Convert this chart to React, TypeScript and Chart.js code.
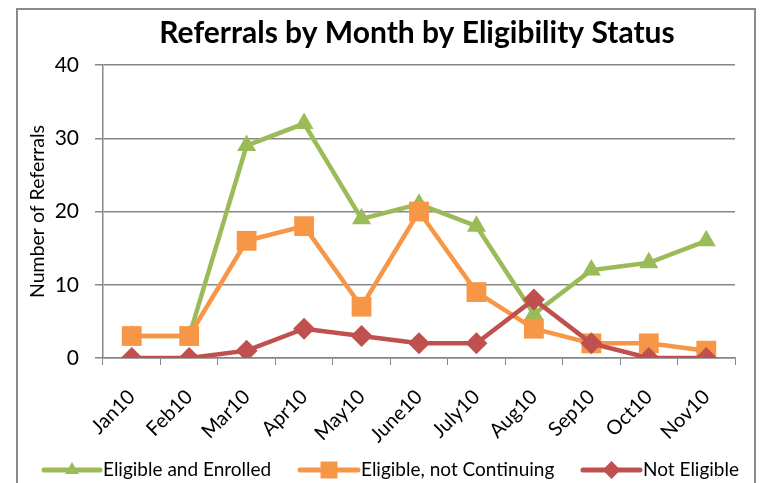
import React, { useEffect, useRef } from "react";
import { Chart, registerables } from "chart.js";

Chart.register(...registerables);

const categories = ["Jan10", "Feb10", "Mar10", "Apr10", "May10", "June10", "July10", "Aug10", "Sep10", "Oct10", "Nov10"];
const eligibleEnrolled = [3, 3, 29, 32, 19, 21, 18, 6, 12, 13, 16];
const eligibleNotContinuing = [3, 3, 16, 18, 7, 20, 9, 4, 2, 2, 1];
const notEligible = [0, 0, 1, 4, 3, 2, 2, 8, 2, 0, 0];
const yTicks = [0, 10, 20, 30, 40];

const titleText = "Referrals by Month by Eligibility Status";
const yTitle = "Number of Referrals";
const seriesNames = ["Eligible and Enrolled", "Eligible, not Continuing", "Not Eligible"];

const GREEN = "#9BBB59";
const ORANGE = "#F79646";
const RED = "#C0504D";
const GRID = "#868686";
const FONT = "Lato, 'Open Sans', sans-serif";

const customPlugin = {
  id: "customDecor",
  afterDraw(chart: any) {
    const ctx = chart.ctx;
    ctx.save();
    // title
    ctx.fillStyle = "#000";
    ctx.font = `bold 30px ${FONT}`;
    ctx.textAlign = "center";
    ctx.textBaseline = "middle";
    ctx.fillText(titleText, 417, 33);
    // legend
    const items = [
      { x0: 44, x1: 100, tx: 103, color: GREEN, style: "triangle", r: 8 },
      { x0: 300, x1: 358, tx: 361, color: ORANGE, style: "rect", r: 12 },
      { x0: 583, x1: 640, tx: 643, color: RED, style: "rectRot", r: 9 },
    ];
    const ly = 470;
    items.forEach((it, i) => {
      ctx.strokeStyle = it.color;
      ctx.lineWidth = 5;
      ctx.lineCap = "round";
      ctx.beginPath();
      ctx.moveTo(it.x0, ly);
      ctx.lineTo(it.x1, ly);
      ctx.stroke();
      ctx.fillStyle = it.color;
      ctx.beginPath();
      const cx = (it.x0 + it.x1) / 2;
      if (it.style === "triangle") {
        ctx.moveTo(cx, ly - it.r);
        ctx.lineTo(cx + it.r * 0.87, ly + it.r * 0.5);
        ctx.lineTo(cx - it.r * 0.87, ly + it.r * 0.5);
      } else if (it.style === "rect") {
        const s = it.r * 0.707;
        ctx.rect(cx - s, ly - s, 2 * s, 2 * s);
      } else {
        ctx.moveTo(cx, ly - it.r);
        ctx.lineTo(cx + it.r, ly);
        ctx.lineTo(cx, ly + it.r);
        ctx.lineTo(cx - it.r, ly);
      }
      ctx.closePath();
      ctx.fill();
      ctx.fillStyle = "#000";
      ctx.font = `19px ${FONT}`;
      ctx.textAlign = "left";
      ctx.textBaseline = "middle";
      ctx.fillText(seriesNames[i], it.tx, ly);
    });
    ctx.restore();
  },
};

export default function App() {
  const canvasRef = useRef<HTMLCanvasElement | null>(null);

  useEffect(() => {
    const canvas = canvasRef.current;
    if (!canvas) return;
    const chart = new Chart(canvas, {
      type: "line",
      data: {
        labels: categories,
        datasets: [
          {
            label: seriesNames[0],
            data: eligibleEnrolled,
            borderColor: GREEN,
            backgroundColor: GREEN,
            pointBackgroundColor: GREEN,
            pointBorderColor: GREEN,
            pointBorderWidth: 0,
            borderWidth: 4.5,
            pointStyle: "triangle",
            pointRadius: 11,
            order: 3,
          },
          {
            label: seriesNames[1],
            data: eligibleNotContinuing,
            borderColor: ORANGE,
            backgroundColor: ORANGE,
            pointBackgroundColor: ORANGE,
            pointBorderColor: ORANGE,
            pointBorderWidth: 0,
            borderWidth: 4.5,
            pointStyle: "rect",
            pointRadius: 14,
            order: 2,
          },
          {
            label: seriesNames[2],
            data: notEligible,
            borderColor: RED,
            backgroundColor: RED,
            pointBackgroundColor: RED,
            pointBorderColor: RED,
            pointBorderWidth: 0,
            borderWidth: 4.5,
            pointStyle: "rectRot",
            pointRadius: 11,
            order: 1,
          },
        ],
      },
      options: {
        animation: false,
        responsive: false,
        maintainAspectRatio: false,
        layout: { padding: { top: 65, left: 26, right: 27, bottom: 25 } },
        plugins: {
          legend: { display: false },
          title: { display: false },
          tooltip: { enabled: false },
        },
        scales: {
          x: {
            type: "category",
            offset: true,
            grid: {
              display: true,
              offset: true,
              drawOnChartArea: false,
              drawTicks: true,
              tickLength: 7,
              color: GRID,
              lineWidth: 1,
            },
            border: { display: true, color: GRID, width: 1.5 },
            ticks: {
              color: "#000",
              font: { family: FONT, size: 20 },
              maxRotation: 45,
              minRotation: 45,
              autoSkip: false,
              padding: 20,
            },
            afterFit: (s: any) => {
              s.height = 100;
            },
          },
          y: {
            min: 0,
            max: 40,
            afterBuildTicks: (s: any) => {
              s.ticks = yTicks.map((v) => ({ value: v }));
            },
            grid: {
              color: GRID,
              lineWidth: 1.5,
              tickLength: 8,
              drawTicks: true,
            },
            border: { display: true, color: GRID, width: 1.5 },
            ticks: {
              color: "#000",
              font: { family: FONT, size: 21 },
              padding: 16,
            },
            title: {
              display: true,
              text: yTitle,
              color: "#000",
              font: { family: FONT, size: 19.5 },
              padding: { top: 0, bottom: 0 },
            },
            afterFit: (s: any) => {
              s.width = 103 - 26;
            },
          },
        },
      },
      plugins: [customPlugin],
    });
    return () => chart.destroy();
  }, []);

  return (
    <div style={{ position: "fixed", left: 0, top: 0, width: 762, height: 483, background: "#fff", overflow: "hidden" }}>
      <div
        style={{
          position: "absolute",
          left: 16,
          top: 8,
          width: 740,
          height: 500,
          border: "2px solid #8a8a8a",
          boxSizing: "border-box",
        }}
      />
      <canvas ref={canvasRef} width={762} height={483} style={{ position: "absolute", left: 0, top: 0 }} />
    </div>
  );
}
